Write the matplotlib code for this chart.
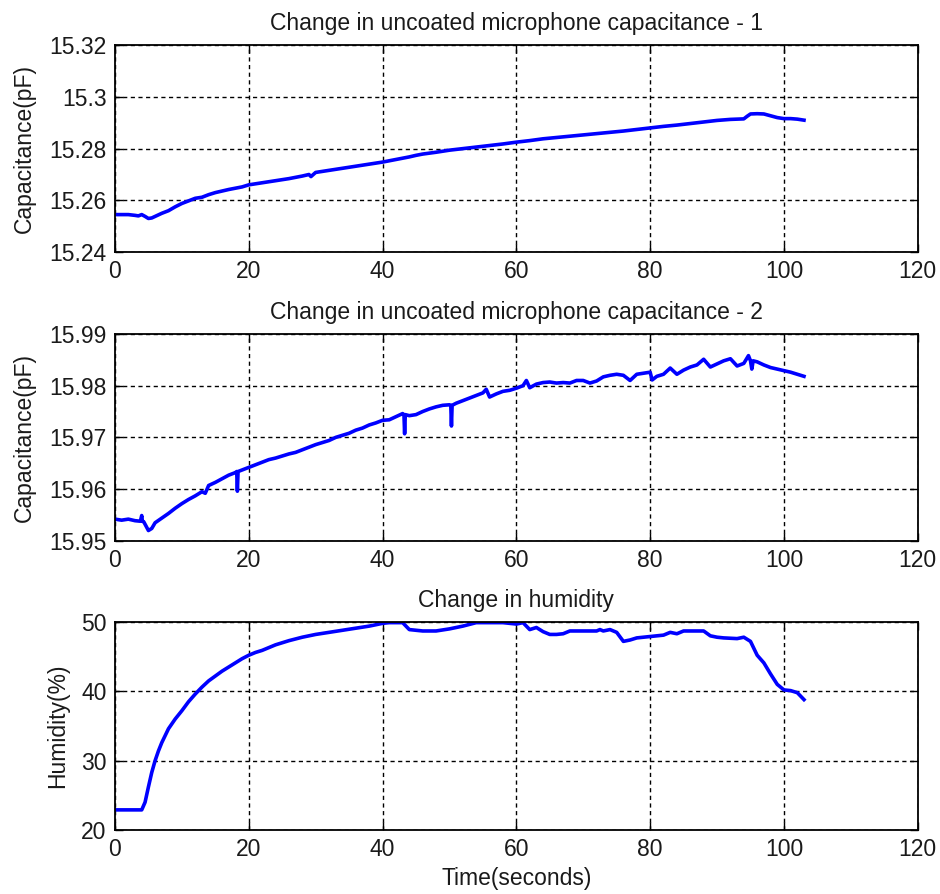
import matplotlib
matplotlib.use("Agg")
import numpy as np
from matplotlib import pyplot as plt
from matplotlib.ticker import FuncFormatter

# time (s) and capacitance (pF) of the first microphone
t1 = [0, 1, 2, 3, 3.5, 4, 4.5, 5, 5.5, 6, 7, 8, 9, 10, 11, 12, 13, 14, 15, 17,
      19, 20, 22, 24, 26, 28, 29, 29.3, 30, 32, 34, 36, 38, 40, 42, 44, 45, 46, 48, 50,
      52, 54, 56, 58, 60, 62, 64, 66, 68, 70, 72, 74, 76, 78, 80, 82, 84, 86, 88, 90,
      92, 93, 94, 94.5, 95, 96, 97, 98, 99, 100, 101, 102, 103]
cap1 = [15.2545, 15.2545, 15.2545, 15.2542, 15.2540, 15.2545, 15.2538, 15.2530, 15.2532, 15.2538,
        15.2550, 15.2560, 15.2575, 15.2588, 15.2598, 15.2608, 15.2612, 15.2622, 15.2630, 15.2642,
        15.2652, 15.2660, 15.2668, 15.2676, 15.2684, 15.2694, 15.2700, 15.2692, 15.2708, 15.2716,
        15.2724, 15.2732, 15.2740, 15.2748, 15.2758, 15.2768, 15.2774, 15.2779, 15.2786, 15.2794,
        15.2800, 15.2806, 15.2812, 15.2818, 15.2825, 15.2831, 15.2838, 15.2843, 15.2848, 15.2853,
        15.2858, 15.2863, 15.2868, 15.2874, 15.2880, 15.2886, 15.2891, 15.2897, 15.2903, 15.2909,
        15.2913, 15.2914, 15.2915, 15.2925, 15.2934, 15.2935, 15.2934, 15.2927, 15.2920, 15.2916,
        15.2916, 15.2914, 15.2910]

# time (s) and capacitance (pF) of the second microphone
t2 = [0, 1, 2, 3, 3.8, 4, 4.1, 4.3, 5, 5.5, 6, 7, 8, 9, 10, 11, 12, 13, 13.5, 14,
      15, 16, 17, 18, 18.2, 18.3, 18.4, 19, 20, 21, 22, 23, 24, 25, 26, 27, 28, 29, 30, 31,
      32, 33, 34, 35, 36, 37, 38, 39, 40, 41, 42, 43, 43.2, 43.3, 43.4, 44, 45, 46, 47, 48,
      49, 50, 50.2, 50.3, 50.4, 51, 52, 53, 54, 55, 55.5, 56, 57, 58, 59, 60, 61, 61.5, 62, 63,
      64, 65, 66, 67, 68, 69, 70, 71, 72, 73, 74, 75, 76, 77, 78, 79, 80, 80.3, 81, 82,
      83, 84, 85, 86, 87, 88, 89, 90, 91, 92, 93, 94, 94.7, 95, 95.2, 95.4, 96, 97, 98, 99,
      100, 101, 102, 103]
cap2 = [15.9542, 15.9540, 15.9542, 15.9539, 15.9538, 15.9549, 15.9538, 15.9537, 15.9520, 15.9524,
        15.9535, 15.9544, 15.9553, 15.9563, 15.9572, 15.9580, 15.9587, 15.9595, 15.9592, 15.9607,
        15.9613, 15.9620, 15.9627, 15.9632, 15.9634, 15.9596, 15.9634, 15.9637, 15.9642, 15.9647,
        15.9652, 15.9657, 15.9660, 15.9664, 15.9668, 15.9671, 15.9676, 15.9681, 15.9686, 15.9690,
        15.9694, 15.9700, 15.9704, 15.9708, 15.9714, 15.9718, 15.9724, 15.9728, 15.9733, 15.9734,
        15.9740, 15.9746, 15.9744, 15.9707, 15.9744, 15.9742, 15.9744, 15.9750, 15.9755, 15.9759,
        15.9762, 15.9763, 15.9762, 15.9722, 15.9762, 15.9766, 15.9771, 15.9776, 15.9781, 15.9786,
        15.9793, 15.9778, 15.9784, 15.9789, 15.9791, 15.9795, 15.9800, 15.9810, 15.9796, 15.9803,
        15.9806, 15.9807, 15.9805, 15.9806, 15.9805, 15.9810, 15.9810, 15.9805, 15.9809, 15.9817,
        15.9820, 15.9822, 15.9820, 15.9810, 15.9822, 15.9824, 15.9826, 15.9811, 15.9818, 15.9822,
        15.9834, 15.9822, 15.9830, 15.9836, 15.9840, 15.9851, 15.9836, 15.9842, 15.9848, 15.9852,
        15.9838, 15.9843, 15.9858, 15.9848, 15.9832, 15.9848, 15.9846, 15.9840, 15.9835, 15.9832,
        15.9829, 15.9826, 15.9822, 15.9818]

# time (s) and relative humidity (%)
t3 = [0, 1, 2, 3, 4, 4.5, 5, 5.5, 6, 6.5, 7, 8, 9, 10, 11, 12, 13, 14, 15, 16,
      17, 18, 19, 20, 21, 22, 23, 24, 25, 26, 28, 30, 32, 34, 36, 38, 40, 41, 42, 43,
      44, 46, 48, 50, 52, 54, 56, 58, 60, 61, 62, 63, 64, 65, 66, 67, 68, 70, 72, 72.5,
      73, 74, 75, 76, 77, 78, 80, 82, 83, 84, 85, 86, 88, 89, 90, 91, 93, 94, 95, 96,
      97, 98, 99, 100, 101, 102, 103]
hum = [22.9, 22.9, 22.9, 22.9, 22.9, 24.0, 26.2, 28.3, 30.0, 31.4,
       32.6, 34.6, 36.0, 37.2, 38.5, 39.6, 40.6, 41.5, 42.2, 42.9,
       43.5, 44.1, 44.7, 45.2, 45.6, 45.9, 46.3, 46.7, 47.0, 47.3,
       47.8, 48.2, 48.5, 48.8, 49.1, 49.4, 49.8, 49.9, 49.9, 49.9,
       48.9, 48.7, 48.7, 49.0, 49.4, 49.9, 49.9, 49.9, 49.7, 49.9,
       48.9, 49.2, 48.6, 48.2, 48.2, 48.3, 48.7, 48.7, 48.7, 48.9,
       48.7, 48.9, 48.5, 47.2, 47.4, 47.7, 47.9, 48.1, 48.5, 48.3,
       48.7, 48.7, 48.7, 48.0, 47.8, 47.7, 47.6, 47.8, 47.2, 45.2,
       44.1, 42.5, 41.0, 40.2, 40.1, 39.8, 38.8]

titles = ["Change in uncoated microphone capacitance - 1",
          "Change in uncoated microphone capacitance - 2",
          "Change in humidity"]
ylabels = ["Capacitance(pF)", "Capacitance(pF)", "Humidity(%)"]
xticks = [0, 20, 40, 60, 80, 100, 120]
yticks1 = [15.24, 15.26, 15.28, 15.30, 15.32]
yticks2 = [15.95, 15.96, 15.97, 15.98, 15.99]
yticks3 = [20, 30, 40, 50]

plt.rcParams['font.family'] = ['Liberation Sans', 'DejaVu Sans']
plt.rcParams['font.size'] = 16.5
txt = '#1a1a1a'

fig = plt.figure(figsize=(9.4, 8.94), dpi=100)
boxes = [[0.1223, 0.718, 0.854, 0.2315],
         [0.1223, 0.395, 0.854, 0.2315],
         [0.1223, 0.0716, 0.854, 0.2327]]
series = [(t1, cap1, yticks1), (t2, cap2, yticks2), (t3, hum, yticks3)]
label_x = [-0.098, -0.098, -0.057]

for i in range(3):
    ax = fig.add_axes(boxes[i])
    x, y, yt = series[i]
    ax.plot(x, y, color='#0000ff', linewidth=2.6)
    ax.set_xlim(0, 120)
    ax.set_ylim(yt[0], yt[-1])
    ax.set_xticks(xticks)
    ax.set_yticks(yt)
    ax.yaxis.set_major_formatter(FuncFormatter(lambda v, p: '%g' % round(v, 4)))
    ax.grid(True, color='black', linestyle=(0, (3, 2.5)), linewidth=1.0)
    ax.tick_params(direction='in', length=6, width=1, top=True, right=True,
                   colors='black', labelcolor=txt, labelsize=16.5, pad=6)
    for s in ax.spines.values():
        s.set_linewidth(1.3)
    ax.set_title(titles[i], fontsize=16.5, color=txt, pad=11)
    ax.set_ylabel(ylabels[i], fontsize=16.5, color=txt)
    ax.yaxis.set_label_coords(label_x[i], 0.5)
    if i == 2:
        ax.set_xlabel("Time(seconds)", fontsize=16.5, color=txt)
        ax.xaxis.set_label_coords(0.5, -0.18)
        ax.xaxis.label.set_va('top')

fig.savefig('out.png', dpi=100, facecolor='white')
